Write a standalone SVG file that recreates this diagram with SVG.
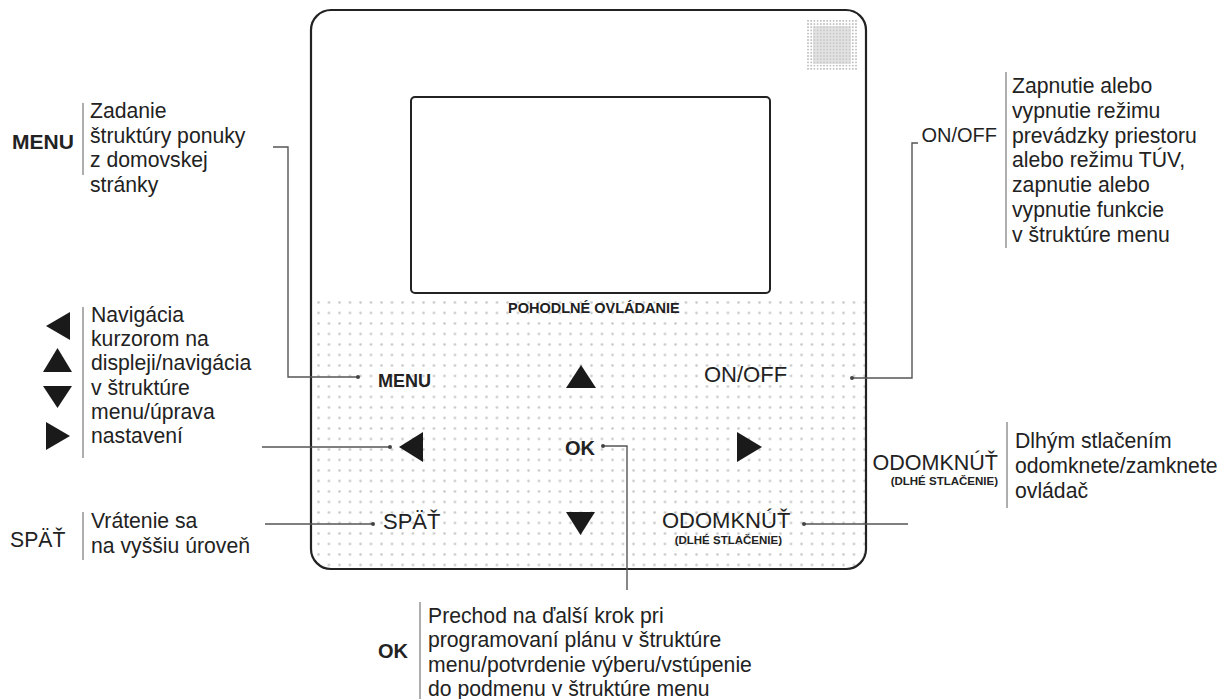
<svg xmlns="http://www.w3.org/2000/svg" width="1224" height="699" viewBox="0 0 1224 699">
<style>
text{font-family:"Liberation Sans",Arial,sans-serif;fill:#222}
.d{font-size:21.2px}
.lb{font-size:22px}
.b{font-weight:bold}
.bar{stroke:#9a9a9a;stroke-width:1.6;fill:none}
.con{stroke:#555;stroke-width:1.4;fill:none}
.dot{fill:#444}
.tri{fill:#1a1a1a}
</style>
<defs>
<pattern id="dots" width="10.5" height="10.5" patternUnits="userSpaceOnUse" x="316" y="300"><circle cx="2.5" cy="2.5" r="1.3" fill="#c6c6c6"/></pattern>
<pattern id="fine" width="3.2" height="3.2" patternUnits="userSpaceOnUse"><circle cx="1.6" cy="1.6" r="0.9" fill="#b4b4b4"/></pattern>
<clipPath id="devclip"><rect x="311" y="10" width="555" height="559" rx="20"/></clipPath>
</defs>
<rect width="1224" height="699" fill="#fff"/>

<g id="device">
<rect x="311" y="300" width="555" height="270" fill="url(#dots)" clip-path="url(#devclip)"/>
<rect x="311" y="10" width="555" height="559" rx="20" fill="none" stroke="#222" stroke-width="2.2"/>
<g id="speaker">
<rect x="807" y="20" width="50" height="50" fill="url(#fine)"/>
<rect x="813" y="26" width="38" height="38" fill="#cfcfcf" opacity="0.6"/>
</g>
<rect id="screen" x="411" y="97" width="359" height="196" rx="4" fill="#fff" stroke="#222" stroke-width="2"/>
<text x="508" y="313" class="b" font-size="14.5">POHODLNÉ OVLÁDANIE</text>
</g>

<g id="btn-menu"><text x="378" y="387" class="b" font-size="18">MENU</text></g>
<g id="btn-up"><polygon class="tri" points="566,388 596,388 581,365"/></g>
<g id="btn-onoff"><text x="704" y="382" class="lb">ON/OFF</text></g>
<g id="btn-left"><polygon class="tri" points="399,447 423,432 423,462"/></g>
<g id="btn-ok"><text x="565" y="455" class="b" font-size="20">OK</text></g>
<g id="btn-right"><polygon class="tri" points="737,432 737,462 762,447"/></g>
<g id="btn-back"><text x="383" y="529" class="lb">SPÄŤ</text></g>
<g id="btn-down"><polygon class="tri" points="566,512 595,512 580.5,535"/></g>
<g id="btn-unlock"><text x="662" y="528" class="lb">ODOMKNÚŤ</text><text x="782" y="544" class="b" font-size="11.5" text-anchor="end">(DLHÉ STLAČENIE)</text></g>

<g id="connectors">
<polyline class="con" points="273,147 288,147 288,377 358,377"/><circle class="dot" cx="358" cy="377" r="2"/>
<polyline class="con" points="918,143 912,143 912,378 852,378"/><circle class="dot" cx="852" cy="378" r="2"/>
<line class="con" x1="262" y1="447" x2="390" y2="447"/><circle class="dot" cx="390" cy="447" r="2"/>
<polyline class="con" points="603,446 627,446 627,590"/><circle class="dot" cx="603" cy="446" r="2"/>
<line class="con" x1="265" y1="524" x2="373" y2="524"/><circle class="dot" cx="373" cy="524" r="2"/>
<line class="con" x1="804" y1="524" x2="908" y2="524"/><circle class="dot" cx="804" cy="524" r="2"/>
</g>

<g id="desc-menu">
<text x="12" y="149" class="b" font-size="21">MENU</text>
<line class="bar" x1="83" y1="103" x2="83" y2="175"/>
<text class="d" x="90" y="118">Zadanie</text>
<text class="d" x="90" y="143">štruktúry ponuky</text>
<text class="d" x="90" y="167">z domovskej</text>
<text class="d" x="90" y="192">stránky</text>
</g>

<g id="desc-nav">
<polygon class="tri" points="46,326 70,312 70,340"/>
<polygon class="tri" points="43,372 72,372 57.5,348"/>
<polygon class="tri" points="43,386 72,386 57.5,408"/>
<polygon class="tri" points="46,422 46,450 70,436"/>
<line class="bar" x1="83" y1="307" x2="83" y2="458"/>
<text class="d" x="91" y="322">Navigácia</text>
<text class="d" x="91" y="346">kurzorom na</text>
<text class="d" x="91" y="370">displeji/navigácia</text>
<text class="d" x="91" y="395">v štruktúre</text>
<text class="d" x="91" y="419">menu/úprava</text>
<text class="d" x="91" y="443">nastavení</text>
</g>

<g id="desc-back">
<text x="10" y="547" class="d">SPÄŤ</text>
<line class="bar" x1="83" y1="512" x2="83" y2="560"/>
<text class="d" x="91" y="528">Vrátenie sa</text>
<text class="d" x="91" y="553">na vyššiu úroveň</text>
</g>

<g id="desc-onoff">
<text x="997" y="142" font-size="20" text-anchor="end">ON/OFF</text>
<line class="bar" x1="1006" y1="72" x2="1006" y2="248"/>
<text class="d" x="1012" y="93">Zapnutie alebo</text>
<text class="d" x="1012" y="118">vypnutie režimu</text>
<text class="d" x="1012" y="143">prevádzky priestoru</text>
<text class="d" x="1012" y="167">alebo režimu TÚV,</text>
<text class="d" x="1012" y="192">zapnutie alebo</text>
<text class="d" x="1012" y="217">vypnutie funkcie</text>
<text class="d" x="1012" y="242">v štruktúre menu</text>
</g>

<g id="desc-unlock">
<text x="998" y="470" font-size="21.5" text-anchor="end">ODOMKNÚŤ</text>
<text x="998" y="485" class="b" font-size="11.5" text-anchor="end">(DLHÉ STLAČENIE)</text>
<line class="bar" x1="1007" y1="422" x2="1007" y2="508"/>
<text class="d" x="1015" y="448">Dlhým stlačením</text>
<text class="d" x="1015" y="473">odomknete/zamknete</text>
<text class="d" x="1015" y="498">ovládač</text>
</g>

<g id="desc-ok">
<text x="408" y="658" class="b" font-size="20" text-anchor="end">OK</text>
<line class="bar" x1="420" y1="602" x2="420" y2="699"/>
<text class="d" x="428" y="623">Prechod na ďalší krok pri</text>
<text class="d" x="428" y="647">programovaní plánu v štruktúre</text>
<text class="d" x="428" y="672">menu/potvrdenie výberu/vstúpenie</text>
<text class="d" x="428" y="696">do podmenu v štruktúre menu</text>
</g>
</svg>
